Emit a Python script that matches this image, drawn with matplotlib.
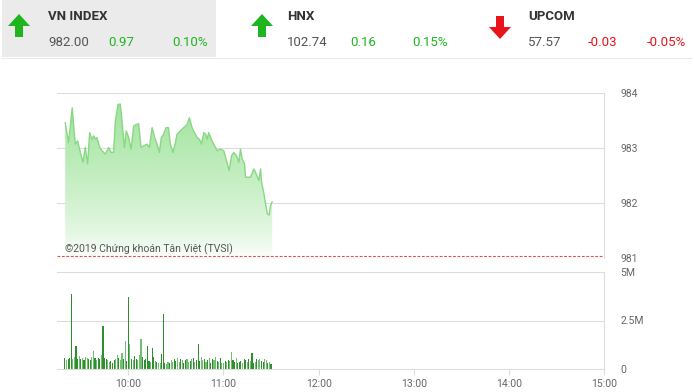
import numpy as np
import matplotlib.pyplot as plt
from matplotlib.patches import Rectangle, Polygon
from matplotlib.colors import LinearSegmentedColormap

# header quotes
idx_names = ['VN INDEX', 'HNX', 'UPCOM']
idx_values = ['982.00', '102.74', '57.57']
idx_change = ['0.97', '0.16', '-0.03']
idx_pct = ['0.10%', '0.15%', '-0.05%']
idx_up = [True, True, False]

# intraday price (minutes after 9:00)
price_t = [20.2, 22.3, 24.6, 26.5, 28.0, 29.7, 31.4, 32.8, 34.3, 35.6, 37.1, 38.1, 39.2, 40.2,
           41.9, 43.4, 45.5, 47.6, 49.1, 50.7, 51.8, 53.5, 54.9, 56.0, 57.5, 58.7, 60.2, 61.7,
           63.4, 65.1, 66.5, 68.0, 69.7, 71.8, 73.3, 75.0, 76.6, 78.1, 79.6, 80.8, 82.3, 83.8,
           85.3, 86.5, 88.2, 89.7, 90.7, 92.8, 94.9, 97.1, 98.5, 100.2, 101.7, 103.4, 104.8,
           106.1, 107.6, 108.8, 109.7, 110.7, 112.8, 115.0, 116.0, 118.1, 120.2, 121.9, 123.6,
           125.1, 126.5, 128.2, 129.7, 130.7, 131.8, 133.3, 133.9, 137.1, 139.2, 140.6, 142.3,
           143.4, 144.0, 145.5, 146.5, 147.6, 148.8, 149.7, 150.7]
price = [983.46, 983.10, 983.73, 983.07, 983.13, 982.92, 982.74, 983.01, 982.71, 983.28, 983.16,
         983.22, 983.16, 983.19, 983.01, 982.95, 982.89, 983.01, 982.92, 982.92, 983.49, 983.79,
         983.80, 983.49, 983.01, 983.31, 983.19, 982.98, 983.40, 983.43, 983.44, 983.01, 983.04,
         983.07, 983.01, 983.37, 983.19, 983.07, 982.92, 983.19, 983.25, 983.37, 983.37, 983.07,
         982.92, 983.10, 983.25, 983.31, 983.37, 983.43, 983.55, 983.37, 983.28, 983.19, 983.16,
         983.07, 983.28, 983.25, 983.16, 983.28, 983.13, 983.01, 982.95, 982.98, 982.95, 982.77,
         982.59, 982.86, 982.92, 982.86, 982.74, 982.98, 982.80, 982.71, 982.47, 982.47, 982.62,
         982.53, 982.41, 982.62, 982.38, 982.17, 981.99, 981.81, 981.78, 981.96, 982.02]
ref_price = 981.03

# volume per minute (millions), minutes 20..150
vol_start = 20
volume = [0.55, 0.45, 0.5, 0.55, 3.85, 0.5, 0.6, 1.2, 0.5, 0.65,
          0.5, 0.55, 0.45, 0.6, 0.55, 0.5, 0.45, 0.6, 0.95, 0.55,
          0.45, 0.55, 0.5, 0.7, 2.2, 0.55, 0.5, 0.45, 0.35, 0.4,
          0.3, 0.45, 0.5, 0.7, 0.55, 0.45, 0.85, 0.5, 1.45, 0.4,
          3.7, 1.3, 0.5, 0.45, 0.65, 0.5, 0.45, 0.7, 1.55, 0.6,
          0.45, 0.5, 1.2, 0.4, 0.35, 1.1, 0.6, 0.4, 0.35, 0.3,
          0.3, 0.75, 2.85, 0.3, 0.25, 0.35, 0.3, 0.45, 0.35, 0.5,
          0.4, 0.55, 0.35, 0.5, 0.45, 0.3, 0.45, 0.5, 0.35, 0.4,
          0.5, 0.55, 0.35, 0.45, 1.3, 0.4, 0.6, 0.45, 0.5, 0.35,
          0.45, 0.55, 0.3, 0.5, 0.45, 0.6, 0.4, 0.35, 0.55, 0.3,
          0.3, 0.4, 0.35, 0.45, 0.4, 0.9, 0.45, 0.35, 0.55, 0.3,
          0.35, 0.4, 0.3, 0.5, 0.45, 0.35, 0.5, 0.4, 0.8, 0.3,
          0.35, 0.5, 0.45, 0.5, 0.4, 0.35, 0.5, 0.45, 0.3, 0.35, 0.25]
vol_shade = ('dldddllddl' 'dldllddlld' 'lddldddlld' 'ddlldlldld'
             'dldlddllld' 'ddddlddldl' 'ldddlldlld' 'dlldlddlld'
             'ldldddlldl' 'dlddlldldl' 'ldldllddld' 'ddlddldldd'
             'ldllddlldld')

hour_ticks = [60, 120, 180, 240, 300, 360]
hour_labels = ['10:00', '11:00', '12:00', '13:00', '14:00', '15:00']

W, H = 694, 392
fig = plt.figure(figsize=(W / 100, H / 100), dpi=100, facecolor='w')

def fx(px):
    return px / W

def fy(py):
    return 1 - py / H

font = ['Roboto', 'DejaVu Sans']
grid_c = '#dddddd'
label_c = '#666666'

# header
fig.patches.append(Rectangle((fx(2), fy(57)), fx(214), 57 / H, transform=fig.transFigure,
                             facecolor='#ebebeb', edgecolor='none'))
fig.patches.append(Rectangle((fx(2), fy(59)), fx(690), 1 / H, transform=fig.transFigure,
                             facecolor='#e6e6e6', edgecolor='none'))
name_x = [48, 287, 528]
arrow_x = [19, 262, 500]
chg_x = [108, 350, 588]
pct_x = [172, 412, 647]
for i in range(3):
    up = idx_up[i]
    col = '#1fb51f' if up else '#e8141a'
    ax0 = arrow_x[i]
    if up:
        pts = [(ax0, 14), (ax0 + 11, 26), (ax0 + 4, 26), (ax0 + 4, 37), (ax0 - 4, 37),
               (ax0 - 4, 26), (ax0 - 11, 26)]
    else:
        pts = [(ax0, 39), (ax0 + 11, 27), (ax0 + 4, 27), (ax0 + 4, 16), (ax0 - 4, 16),
               (ax0 - 4, 27), (ax0 - 11, 27)]
    fig.patches.append(Polygon([(fx(p[0]), fy(p[1])) for p in pts], closed=True,
                               transform=fig.transFigure, facecolor=col, edgecolor='none'))
    fig.text(fx(name_x[i]), fy(17), idx_names[i], fontsize=9.5, color='#333333',
             fontweight='bold', family=font, va='center', ha='left')
    fig.text(fx(name_x[i]), fy(43), idx_values[i], fontsize=9.5, color='#555555',
             family=font, va='center', ha='left')
    fig.text(fx(chg_x[i]), fy(43), idx_change[i], fontsize=9.5, color=col,
             family=font, va='center', ha='left')
    fig.text(fx(pct_x[i]), fy(43), idx_pct[i], fontsize=9.5, color=col,
             family=font, va='center', ha='left')

xmin, xmax = 15, 360

# price panel
ax1 = fig.add_axes([fx(57), fy(258), fx(604 - 57), (258 - 93) / H])
ax1.set_xlim(xmin, xmax)
ax1.set_ylim(981, 984)
for v in [982, 983, 984]:
    ax1.axhline(v, color=grid_c, lw=0.8, zorder=0)
ax1.plot(price_t, price, color='#88d884', lw=1, zorder=3)
fill = ax1.fill_between(price_t, price, 981, color='none', lw=0)
cmap = LinearSegmentedColormap.from_list('g', ['#ffffff', '#9ee39a'])
grad = np.linspace(0, 1, 256).reshape(-1, 1) ** 0.7
img = ax1.imshow(grad, cmap=cmap, extent=[xmin, xmax, 981, 984], origin='lower',
                 aspect='auto', zorder=2)
img.set_clip_path(fill.get_paths()[0], transform=ax1.transData)
ax1.axhline(ref_price, color='#d9534f', lw=0.8, ls=(0, (2.5, 1.5)), zorder=4)
for s in ['left', 'top', 'bottom']:
    ax1.spines[s].set_visible(False)
ax1.spines['right'].set_color(grid_c)
ax1.set_xticks([])
ax1.set_yticks([981, 982, 983, 984])
ax1.yaxis.tick_right()
ax1.tick_params(axis='y', length=0, pad=12, labelsize=7.5, labelcolor=label_c)
for lab in ax1.get_yticklabels():
    lab.set_family(font)
ax1.text(20, 981.1, '©2019 Chứng khoán Tân Việt (TVSI)', fontsize=7.5, color='#555555',
         family=['Roboto', 'DejaVu Sans'], zorder=5)

# volume panel
ax2 = fig.add_axes([fx(57), fy(369), fx(604 - 57), (369 - 272) / H])
ax2.set_xlim(xmin, xmax)
ax2.set_ylim(0, 5)
for v in [2.5, 5]:
    ax2.axhline(v, color=grid_c, lw=0.8, zorder=0)
vol_t = np.arange(vol_start, vol_start + len(volume))
vol_col = ['#2f8f2f' if c == 'd' else '#74bd74' for c in vol_shade]
ax2.bar(vol_t, volume, width=0.7, color=vol_col, zorder=2)
for s in ['left', 'top']:
    ax2.spines[s].set_visible(False)
ax2.spines['right'].set_color(grid_c)
ax2.spines['bottom'].set_color(grid_c)
ax2.set_xticks(hour_ticks)
ax2.set_xticklabels(hour_labels)
ax2.tick_params(axis='x', length=4, color=grid_c, pad=3, labelsize=7.5, labelcolor=label_c)
ax2.set_yticks([0, 2.5, 5])
ax2.set_yticklabels(['0', '2.5M', '5M'])
ax2.yaxis.tick_right()
ax2.tick_params(axis='y', length=0, pad=12, labelsize=7.5, labelcolor=label_c)
for lab in ax2.get_xticklabels() + ax2.get_yticklabels():
    lab.set_family(font)

plt.savefig('out.png', dpi=100)
